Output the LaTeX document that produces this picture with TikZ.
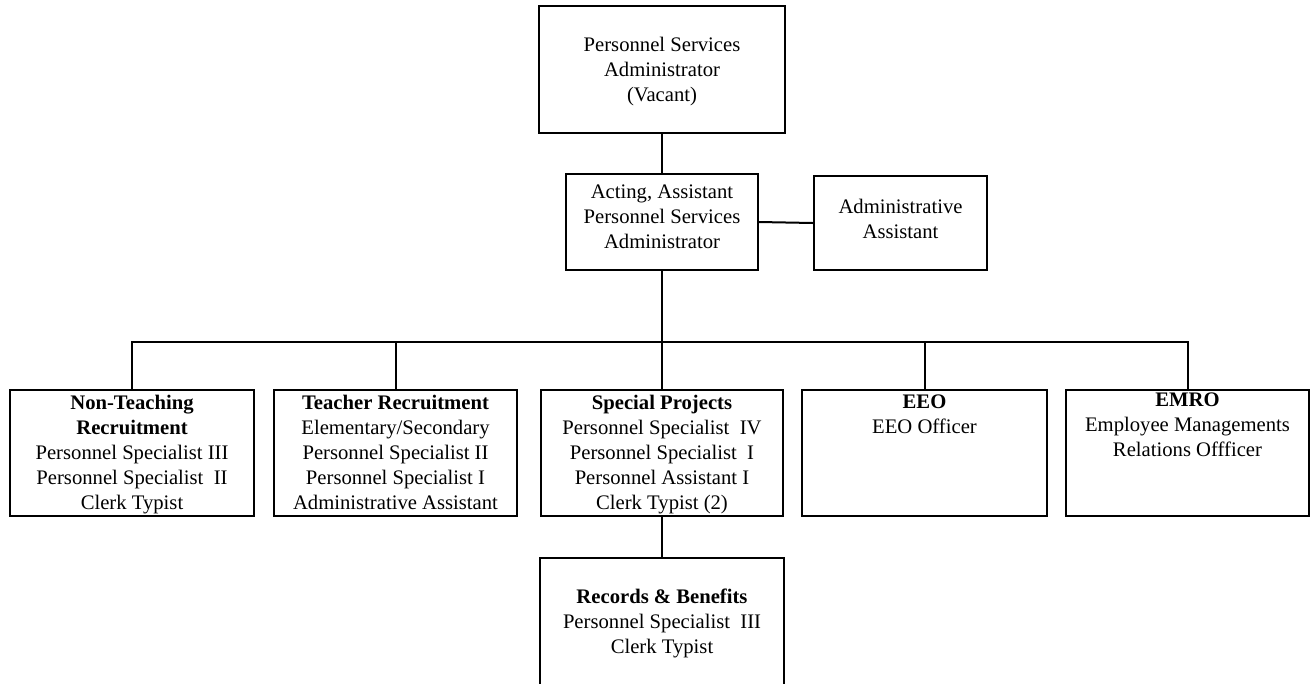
\documentclass[tikz,border=0pt]{standalone}
\usepackage{fontspec}
\setmainfont{Liberation Serif}
\usetikzlibrary{fit}

\begin{document}
\begin{tikzpicture}[
  x=0.75pt, y=-0.75pt,
  box/.style={draw, line width=1.5pt, inner sep=0pt},
  txt/.style={inner sep=0pt, align=center, anchor=north,
              font=\fontsize{15.5}{18.75}\selectfont},
  link/.style={line width=1.5pt}
]
\fill[white] (0,0) rectangle (1311,683);
\useasboundingbox (0,0) rectangle (1311,683);

% boxes
\node[box, fit={(539,6)(785,133)}] (psa) {};
\node[box, fit={(566,174)(758,270)}] (apsa) {};
\node[box, fit={(814,176)(987,270)}] (aa) {};
\node[box, fit={(10,390)(254,516)}] (ntr) {};
\node[box, fit={(274,390)(517,516)}] (tr) {};
\node[box, fit={(541,390)(783,516)}] (sp) {};
\node[box, fit={(802,390)(1047,516)}] (eeo) {};
\node[box, fit={(1066,390)(1309,516)}] (emro) {};
\node[box, fit={(540,558)(784,687)}] (rb) {};

% box texts
\node[txt] at ([yshift=-24pt]psa.north)
  {Personnel Services\\Administrator\\(Vacant)};
\node[txt] at ([yshift=-9pt]apsa.north)
  {Acting, Assistant\\Personnel Services\\Administrator};
\node[txt] at ([yshift=-18pt]aa.north)
  {Administrative\\Assistant};
\node[txt] at ([yshift=-4.5pt]ntr.north)
  {\textbf{Non-Teaching}\\\textbf{Recruitment}\\Personnel Specialist III\\Personnel Specialist\ \ II\\Clerk Typist};
\node[txt] at ([yshift=-4.5pt]tr.north)
  {\textbf{Teacher Recruitment}\\Elementary/Secondary\\Personnel Specialist II\\Personnel Specialist I\\Administrative Assistant};
\node[txt] at ([yshift=-4.5pt]sp.north)
  {\textbf{Special Projects}\\Personnel Specialist\ \ IV\\Personnel Specialist\ \ I\\Personnel Assistant I\\Clerk Typist (2)};
\node[txt] at ([yshift=-4.5pt]eeo.north)
  {\textbf{EEO}\\EEO Officer};
\node[txt] at ([yshift=-3pt]emro.north)
  {\textbf{EMRO}\\Employee Managements\\Relations Offficer};
\node[txt] at ([yshift=-24pt]rb.north)
  {\textbf{Records \& Benefits}\\Personnel Specialist\ \ III\\Clerk Typist};

% connectors
\coordinate (bus) at (apsa.south |- 0,342);
\draw[link] (psa.south) -- (apsa.north);
\draw[link] (apsa.east) -- (aa.west);
\draw[link] (apsa.south) -- (bus);
\draw[link] (ntr.north) |- (bus) -| (emro.north);
\draw[link] (tr.north) -- (tr.north |- bus);
\draw[link] (sp.north) -- (sp.north |- bus);
\draw[link] (eeo.north) -- (eeo.north |- bus);
\draw[link] (sp.south) -- (rb.north);
\end{tikzpicture}
\end{document}
